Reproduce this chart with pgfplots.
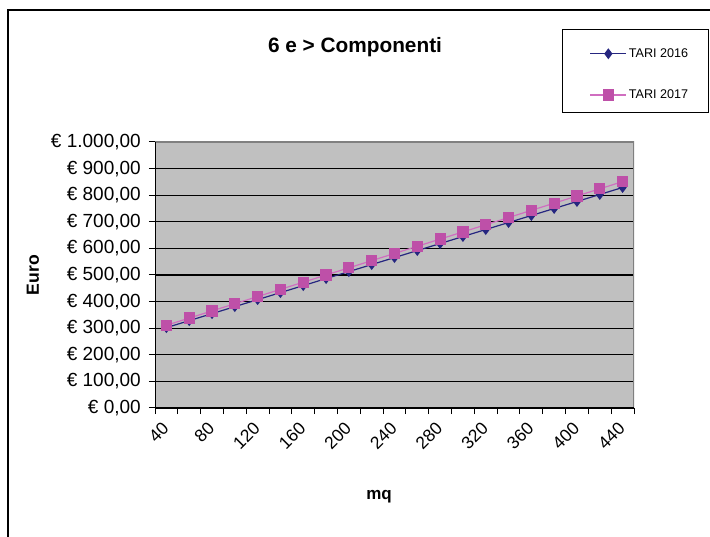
\documentclass[border=0pt]{standalone}
\usepackage{fontspec}
\setmainfont{Liberation Sans}
\usepackage{pgfplots}
\pgfplotsset{compat=1.18}
\definecolor{navyS}{RGB}{38,38,128}
\definecolor{pinkL}{RGB}{208,110,192}
\definecolor{pinkM}{RGB}{190,80,168}
\definecolor{plotgray}{RGB}{192,192,192}
\begin{document}
\begin{tikzpicture}[x=1pt,y=1pt]
\useasboundingbox (0,0) rectangle (710,536);
\clip (0,0) rectangle (710,536);
\fill[white] (0,0) rectangle (710,536);
\draw[line width=1.3pt] (8,-20) -- (8,526) -- (730,526);
\begin{axis}[
  at={(155pt,128pt)}, anchor=south west,
  scale only axis, width=479pt, height=266pt,
  xmin=-0.5, xmax=20.5, ymin=0, ymax=1000,
  xtick={-0.5,0.5,...,20.5},
  x tick label as interval,
  xticklabels={40,,80,,120,,160,,200,,240,,280,,320,,360,,400,,440},
  ytick={0,100,...,1000},
  yticklabels={{€ 0,00},{€ 100,00},{€ 200,00},{€ 300,00},{€ 400,00},{€ 500,00},{€ 600,00},{€ 700,00},{€ 800,00},{€ 900,00},{€ 1.000,00}},
  xtick pos=bottom, ytick pos=left,
  tick align=outside,
  major tick length=6pt,
  tick style={black, line width=1pt},
  ymajorgrids, grid style={black, line width=1.2pt},
  axis line style={draw=none},
  axis background/.style={fill=plotgray},
  xticklabel style={yshift=-11pt, rotate=45, anchor=east, font=\fontsize{17.5}{17.5}\selectfont, inner sep=1pt},
  yticklabel style={font=\fontsize{19}{19}\selectfont, inner sep=2pt, xshift=-6pt},
  legend image code/.code={\draw[mark repeat=2,mark phase=2,#1] plot coordinates {(0pt,0pt) (18pt,0pt) (36pt,0pt)};},
  legend style={draw=none, fill=none, at={(axis description cs:1.0125,1.254)}, anchor=center,
    row sep=27pt, font=\fontsize{12.6}{13}\selectfont},
  legend cell align=left,
]
\addplot[navyS, line width=1.2pt, mark=diamond*, mark size=4.5pt, mark options={fill=navyS, draw=navyS, solid}] coordinates {
(0,302.0) (1,328.4) (2,354.7) (3,381.1) (4,407.4) (5,433.8) (6,460.1) (7,486.5) (8,512.8) (9,539.2) (10,565.5)
(11,591.9) (12,618.2) (13,644.6) (14,670.9) (15,697.3) (16,723.6) (17,750.0) (18,776.3) (19,802.7) (20,829.0)};
\addlegendentry{TARI 2016}
\addplot[pinkL, line width=1.2pt, mark=square*, mark size=5pt, mark options={fill=pinkM, draw=pinkM, solid}] coordinates {
(0,311) (1,338) (2,365) (3,392) (4,419) (5,446) (6,473) (7,500) (8,527) (9,554) (10,581)
(11,608) (12,635) (13,662) (14,689) (15,716) (16,743) (17,770) (18,797) (19,824) (20,851)};
\addlegendentry{TARI 2017}
\draw[gray, line width=1.2pt] (rel axis cs:0,1) -- (rel axis cs:1,1) -- (rel axis cs:1,0);
\draw[black, line width=2pt] (rel axis cs:0,1) -- (rel axis cs:0,0) -- (rel axis cs:1,0);
\end{axis}
\draw[line width=1pt] (562,423) rectangle (708,506);
\node[font=\fontsize{20.8}{24}\selectfont\bfseries, anchor=base] at (355,483) {6 e > Componenti};
\node[font=\fontsize{17.6}{20}\selectfont\bfseries, rotate=90] at (33,261) {Euro};
\node[font=\fontsize{17}{20}\selectfont\bfseries] at (379,39) {mq};
\end{tikzpicture}
\end{document}
